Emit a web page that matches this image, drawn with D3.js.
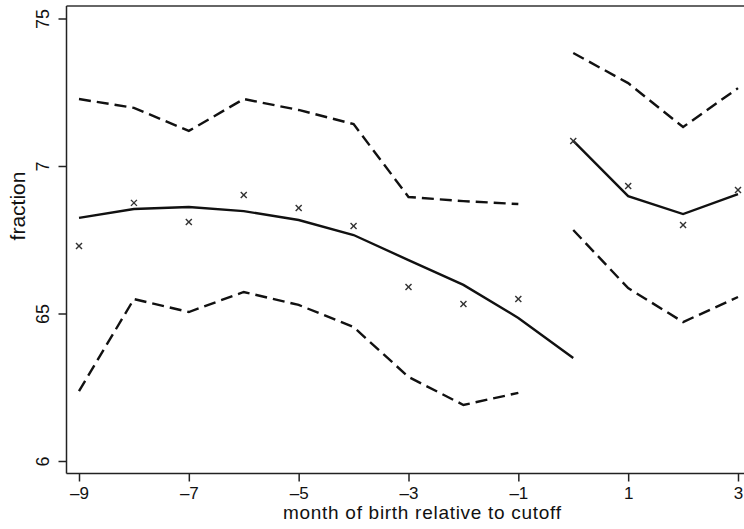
<!DOCTYPE html>
<html>
<head>
<meta charset="utf-8">
<style>
    body { margin: 0; background: #fff; }
    svg text { font-family: 'Liberation Sans', Arial, sans-serif; fill: #111; }
    .fit { fill: none; stroke: #111; stroke-width: 2.4px; }
    .ci { fill: none; stroke: #111; stroke-width: 2.4px; stroke-dasharray: 12,6; }
    .mark { stroke: #333; stroke-width: 1.4px; }
    .axis path, .axis line { stroke: #222; stroke-width: 1.5px; }
</style>
</head>
<body>
<svg id="chart" width="744" height="529"></svg>
<script src="https://d3js.org/d3.v7.min.js"></script>
<script>
// month of birth relative to cutoff
var months = [-9, -8, -7, -6, -5, -4, -3, -2, -1, 0, 1, 2, 3];
// observed fraction per month (crosses)
var observed = [0.6729, 0.6875, 0.6810, 0.6902, 0.6858, 0.6797, 0.6590, 0.6532, 0.6549, 0.7085, 0.6932, 0.6800, 0.6919];

// fitted curve left of cutoff (-9 .. 0) and right of cutoff (0 .. 3)
var fitLeftMonths = [-9, -8, -7, -6, -5, -4, -3, -2, -1, 0];
var fitLeft = [0.6824, 0.6854, 0.6861, 0.6847, 0.6817, 0.6766, 0.6681, 0.6597, 0.6485, 0.6349];
var fitRightMonths = [0, 1, 2, 3];
var fitRight = [0.7085, 0.6898, 0.6837, 0.6905];

// confidence bands
var ciLeftMonths = [-9, -8, -7, -6, -5, -4, -3, -2, -1];
var ciUpperLeft = [0.7227, 0.7197, 0.7119, 0.7227, 0.7190, 0.7142, 0.6895, 0.6881, 0.6871];
var ciLowerLeft = [0.6237, 0.6549, 0.6505, 0.6573, 0.6529, 0.6454, 0.6285, 0.6190, 0.6231];
var ciRightMonths = [0, 1, 2, 3];
var ciUpperRight = [0.7383, 0.7281, 0.7132, 0.7264];
var ciLowerRight = [0.6783, 0.6586, 0.6471, 0.6556];

var xTicks = [-9, -7, -5, -3, -1, 1, 3];
var xTickLabels = ["\u20139", "\u20137", "\u20135", "\u20133", "\u20131", "1", "3"];
var yTicks = [0.6, 0.65, 0.7, 0.75];
var yTickLabels = ["6", "65", "7", "75"];

var svg = d3.select('#chart');
var plotLeft = 66.5, plotRight = 744, plotTop = 6, plotBottom = 473.5;

var x = d3.scaleLinear().domain([-9, 3]).range([79, 738]);
var y = d3.scaleLinear().domain([0.6, 0.75]).range([461, 18.5]);

// frame: top line
svg.append("line")
    .attr("x1", plotLeft).attr("x2", plotRight)
    .attr("y1", plotTop).attr("y2", plotTop)
    .style("stroke", "#333").style("stroke-width", 1.5);

// y axis
var yAxis = svg.append("g").attr("class", "axis")
    .attr("transform", "translate(" + plotLeft + ",0)")
    .call(d3.axisLeft(y).tickValues(yTicks).tickSize(8).tickSizeOuter(0)
        .tickFormat(function(d, i) { return yTickLabels[i]; }));
yAxis.select(".domain").attr("d", "M0," + plotTop + "V" + plotBottom);
yAxis.selectAll("text")
    .attr("transform", "rotate(-90)")
    .attr("x", 0).attr("y", -18).attr("dy", 0)
    .attr("text-anchor", "middle")
    .style("font-size", "18px");

// x axis
var xAxis = svg.append("g").attr("class", "axis")
    .attr("transform", "translate(0," + plotBottom + ")")
    .call(d3.axisBottom(x).tickValues(xTicks).tickSize(8).tickSizeOuter(0)
        .tickFormat(function(d, i) { return xTickLabels[i]; }));
xAxis.select(".domain").attr("d", "M" + plotLeft + ",0H" + plotRight);
xAxis.selectAll("text")
    .attr("y", 25).attr("dy", 0)
    .style("font-size", "17px");

// axis titles
svg.append("text")
    .attr("x", 422).attr("y", 519)
    .attr("text-anchor", "middle")
    .style("font-size", "19px")
    .attr("textLength", 278)
    .text("month of birth relative to cutoff");

svg.append("text")
    .attr("transform", "translate(25,206) rotate(-90)")
    .attr("text-anchor", "middle")
    .style("font-size", "21px")
    .text("fraction");

var line = d3.line().x(function(d) { return x(d[0]); }).y(function(d) { return y(d[1]); });
var pairs = function(ms, vs) { return ms.map(function(m, i) { return [m, vs[i]]; }); };

var g = svg.append("g");
g.append("path").attr("class", "ci").attr("d", line(pairs(ciLeftMonths, ciUpperLeft)));
g.append("path").attr("class", "ci").attr("d", line(pairs(ciLeftMonths, ciLowerLeft)));
g.append("path").attr("class", "ci").attr("d", line(pairs(ciRightMonths, ciUpperRight)));
g.append("path").attr("class", "ci").attr("d", line(pairs(ciRightMonths, ciLowerRight)));
g.append("path").attr("class", "fit").attr("d", line(pairs(fitLeftMonths, fitLeft)));
g.append("path").attr("class", "fit").attr("d", line(pairs(fitRightMonths, fitRight)));

// crosses for observed values
var s = 3;
var marks = svg.append("g").selectAll("g").data(pairs(months, observed)).join("g")
    .attr("transform", function(d) { return "translate(" + x(d[0]) + "," + y(d[1]) + ")"; });
marks.append("line").attr("class", "mark").attr("x1", -s).attr("y1", -s).attr("x2", s).attr("y2", s);
marks.append("line").attr("class", "mark").attr("x1", -s).attr("y1", s).attr("x2", s).attr("y2", -s);
</script>
</body>
</html>
